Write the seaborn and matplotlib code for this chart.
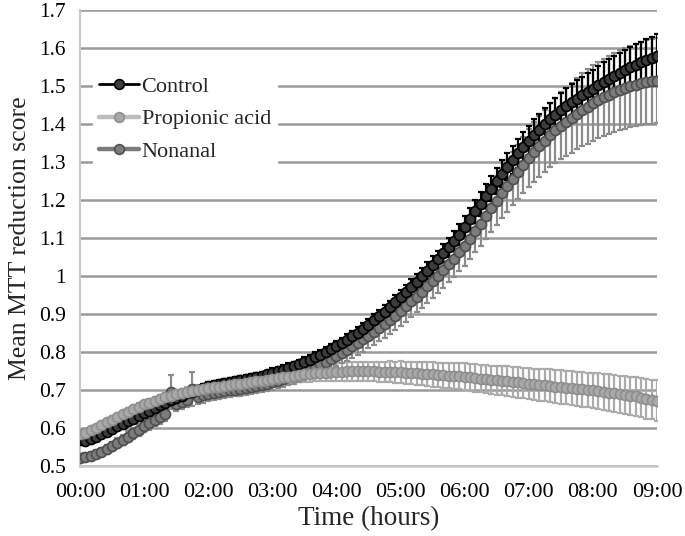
import numpy as np
import pandas as pd
import matplotlib
matplotlib.use("Agg")
import matplotlib.pyplot as plt
import seaborn as sns
from matplotlib.lines import Line2D

# ---- data (one point every 5 minutes) ----
time_minutes = list(range(0, 545, 5))

control = [
    0.568, 0.567, 0.570, 0.576, 0.583, 0.590, 0.597, 0.604, 0.611, 0.618, 0.625, 0.632,
    0.639, 0.646, 0.653, 0.660, 0.667, 0.673, 0.679, 0.685, 0.691, 0.696, 0.701, 0.706,
    0.710, 0.713, 0.716, 0.719, 0.721, 0.724, 0.726, 0.729, 0.732, 0.735, 0.738, 0.741,
    0.745, 0.749, 0.753, 0.758, 0.763, 0.768, 0.774, 0.780, 0.786, 0.793, 0.800, 0.807,
    0.815, 0.823, 0.832, 0.841, 0.851, 0.861, 0.872, 0.883, 0.894, 0.906, 0.918, 0.931,
    0.944, 0.957, 0.971, 0.985, 0.999, 1.014, 1.029, 1.044, 1.060, 1.076, 1.092, 1.109,
    1.130, 1.150, 1.170, 1.190, 1.210, 1.230, 1.250, 1.269, 1.288, 1.306, 1.323, 1.340,
    1.356, 1.371, 1.385, 1.399, 1.412, 1.424, 1.436, 1.447, 1.457, 1.467, 1.476, 1.485,
    1.493, 1.502, 1.511, 1.519, 1.527, 1.535, 1.542, 1.549, 1.556, 1.562, 1.568, 1.574,
    1.580,
]
control_err = [
    0.008, 0.008, 0.008, 0.008, 0.008, 0.008, 0.008, 0.008, 0.008, 0.008, 0.008, 0.008,
    0.009, 0.009, 0.009, 0.009, 0.009, 0.009, 0.009, 0.009, 0.009, 0.009, 0.009, 0.009,
    0.010, 0.010, 0.010, 0.010, 0.010, 0.010, 0.010, 0.010, 0.010, 0.010, 0.010, 0.010,
    0.012, 0.012, 0.012, 0.012, 0.012, 0.012, 0.013, 0.013, 0.013, 0.013, 0.013, 0.013,
    0.015, 0.015, 0.015, 0.015, 0.016, 0.016, 0.016, 0.016, 0.017, 0.017, 0.017, 0.018,
    0.020, 0.020, 0.021, 0.021, 0.022, 0.022, 0.023, 0.023, 0.024, 0.025, 0.026, 0.027,
    0.028, 0.029, 0.030, 0.031, 0.032, 0.033, 0.034, 0.035, 0.036, 0.037, 0.038, 0.039,
    0.040, 0.041, 0.042, 0.043, 0.044, 0.045, 0.046, 0.047, 0.047, 0.048, 0.048, 0.049,
    0.050, 0.050, 0.051, 0.051, 0.052, 0.052, 0.053, 0.053, 0.054, 0.054, 0.055, 0.055,
    0.056,
]

propionic = [
    0.585, 0.588, 0.594, 0.601, 0.608, 0.615, 0.622, 0.629, 0.636, 0.643, 0.650, 0.656,
    0.662, 0.667, 0.672, 0.677, 0.681, 0.685, 0.689, 0.692, 0.695, 0.698, 0.701, 0.703,
    0.705, 0.707, 0.709, 0.711, 0.713, 0.715, 0.717, 0.719, 0.721, 0.723, 0.725, 0.727,
    0.729, 0.731, 0.733, 0.735, 0.737, 0.739, 0.741, 0.742, 0.744, 0.745, 0.746, 0.747,
    0.748, 0.748, 0.749, 0.749, 0.749, 0.749, 0.749, 0.749, 0.748, 0.748, 0.748, 0.747,
    0.747, 0.746, 0.745, 0.744, 0.743, 0.742, 0.741, 0.740, 0.739, 0.738, 0.737, 0.736,
    0.735, 0.733, 0.732, 0.730, 0.729, 0.727, 0.726, 0.724, 0.723, 0.721, 0.720, 0.718,
    0.717, 0.715, 0.714, 0.712, 0.711, 0.709, 0.708, 0.706, 0.705, 0.703, 0.702, 0.700,
    0.699, 0.697, 0.695, 0.693, 0.691, 0.689, 0.687, 0.685, 0.683, 0.680, 0.677, 0.675,
    0.672,
]
propionic_err = [
    0.008, 0.008, 0.008, 0.008, 0.008, 0.008, 0.009, 0.009, 0.009, 0.009, 0.009, 0.009,
    0.010, 0.010, 0.010, 0.010, 0.011, 0.011, 0.011, 0.011, 0.012, 0.012, 0.012, 0.012,
    0.013, 0.013, 0.013, 0.014, 0.014, 0.014, 0.015, 0.015, 0.015, 0.016, 0.016, 0.016,
    0.017, 0.017, 0.018, 0.018, 0.019, 0.019, 0.020, 0.020, 0.021, 0.021, 0.022, 0.022,
    0.023, 0.023, 0.024, 0.024, 0.025, 0.025, 0.026, 0.026, 0.027, 0.027, 0.028, 0.028,
    0.029, 0.029, 0.030, 0.030, 0.031, 0.031, 0.032, 0.032, 0.033, 0.033, 0.034, 0.034,
    0.035, 0.035, 0.036, 0.036, 0.037, 0.037, 0.038, 0.038, 0.039, 0.039, 0.040, 0.040,
    0.041, 0.041, 0.042, 0.042, 0.043, 0.043, 0.044, 0.044, 0.045, 0.045, 0.046, 0.046,
    0.047, 0.047, 0.048, 0.048, 0.049, 0.049, 0.050, 0.050, 0.051, 0.051, 0.052, 0.052,
    0.053,
]

nonanal = [
    0.522, 0.523, 0.526, 0.531, 0.537, 0.544, 0.552, 0.560, 0.568, 0.577, 0.586, 0.595,
    0.604, 0.612, 0.620, 0.628, 0.636, 0.694, 0.664, 0.669, 0.674, 0.703, 0.682, 0.686,
    0.690, 0.693, 0.695, 0.697, 0.699, 0.701, 0.703, 0.705, 0.708, 0.711, 0.714, 0.717,
    0.720, 0.724, 0.728, 0.733, 0.738, 0.743, 0.749, 0.755, 0.761, 0.768, 0.775, 0.782,
    0.790, 0.798, 0.806, 0.815, 0.824, 0.833, 0.843, 0.853, 0.863, 0.874, 0.885, 0.896,
    0.908, 0.920, 0.933, 0.946, 0.959, 0.973, 0.987, 1.001, 1.016, 1.031, 1.046, 1.062,
    1.078, 1.098, 1.118, 1.138, 1.158, 1.178, 1.198, 1.218, 1.237, 1.256, 1.274, 1.292,
    1.310, 1.326, 1.341, 1.356, 1.370, 1.383, 1.395, 1.406, 1.417, 1.427, 1.437, 1.446,
    1.455, 1.463, 1.470, 1.477, 1.483, 1.489, 1.494, 1.499, 1.503, 1.507, 1.510, 1.512,
    1.514,
]
nonanal_err = [
    0.010, 0.010, 0.010, 0.011, 0.011, 0.012, 0.012, 0.013, 0.013, 0.014, 0.014, 0.015,
    0.015, 0.016, 0.016, 0.017, 0.017, 0.045, 0.020, 0.020, 0.020, 0.045, 0.020, 0.020,
    0.018, 0.018, 0.018, 0.018, 0.018, 0.018, 0.018, 0.018, 0.019, 0.019, 0.019, 0.019,
    0.020, 0.020, 0.020, 0.021, 0.021, 0.022, 0.022, 0.023, 0.023, 0.024, 0.025, 0.026,
    0.027, 0.028, 0.029, 0.030, 0.031, 0.032, 0.033, 0.034, 0.035, 0.036, 0.037, 0.038,
    0.039, 0.040, 0.041, 0.042, 0.043, 0.044, 0.045, 0.046, 0.047, 0.048, 0.049, 0.050,
    0.052, 0.054, 0.056, 0.058, 0.060, 0.062, 0.064, 0.066, 0.068, 0.070, 0.072, 0.074,
    0.076, 0.078, 0.080, 0.082, 0.084, 0.086, 0.088, 0.090, 0.092, 0.094, 0.096, 0.098,
    0.100, 0.101, 0.102, 0.103, 0.104, 0.105, 0.106, 0.107, 0.108, 0.109, 0.110, 0.111,
    0.112,
]

series_names = ["Control", "Propionic acid", "Nonanal"]
y_ticks = [0.5, 0.6, 0.7, 0.8, 0.9, 1, 1.1, 1.2, 1.3, 1.4, 1.5, 1.6, 1.7]
y_tick_labels = ["0.5", "0.6", "0.7", "0.8", "0.9", "1", "1.1", "1.2", "1.3",
                 "1.4", "1.5", "1.6", "1.7"]
x_tick_hours = [0, 1, 2, 3, 4, 5, 6, 7, 8, 9]
x_tick_labels = ["00:00", "01:00", "02:00", "03:00", "04:00", "05:00",
                 "06:00", "07:00", "08:00", "09:00"]

# ---- build long table ----
hours = [m / 60 for m in time_minutes]
df = pd.concat([
    pd.DataFrame({"hours": hours, "score": control, "err": control_err, "series": "Control"}),
    pd.DataFrame({"hours": hours, "score": propionic, "err": propionic_err, "series": "Propionic acid"}),
    pd.DataFrame({"hours": hours, "score": nonanal, "err": nonanal_err, "series": "Nonanal"}),
], ignore_index=True)

sns.set_theme(style="white")
plt.rcParams["font.family"] = ["Liberation Serif", "DejaVu Serif"]

fig = plt.figure(figsize=(6.85, 5.36), dpi=100)
ax = fig.add_axes([80 / 685, 1 - 466 / 536, 577 / 685, 456 / 536])

styles = {
    "Control": dict(line="#000000", face="#3c3c3c", edge="#000000", err="#000000", z=6),
    "Propionic acid": dict(line="#bdbdbd", face="#a9a9a9", edge="#8e8e8e", err="#ababab", z=7),
    "Nonanal": dict(line="#7a7a7a", face="#7c7c7c", edge="#4e4e4e", err="#8c8c8c", z=5),
}

# error bars first
for name in ["Propionic acid", "Nonanal", "Control"]:
    sub = df[df["series"] == name]
    st = styles[name]
    ax.errorbar(sub["hours"], sub["score"], yerr=sub["err"], fmt="none",
                ecolor=st["err"], elinewidth=1.6, capsize=2.2, capthick=1.6,
                zorder=3 if name != "Control" else 4)

for name in ["Nonanal", "Control", "Propionic acid"]:
    sub = df[df["series"] == name]
    st = styles[name]
    sns.lineplot(data=sub, x="hours", y="score", ax=ax, color=st["line"],
                 linewidth=2.2, marker="o", markersize=7.2,
                 markerfacecolor=st["face"], markeredgecolor=st["edge"],
                 markeredgewidth=1.2, zorder=st["z"], legend=False,
                 estimator=None, sort=False)

ax.set_xlim(0, 9)
ax.set_ylim(0.5, 1.7)
ax.set_yticks(y_ticks)
ax.set_yticklabels(y_tick_labels)
ax.set_xticks(x_tick_hours)
ax.set_xticklabels(x_tick_labels)
ax.tick_params(axis="both", length=0, colors="#000000")
ax.tick_params(axis="y", pad=10, labelsize=15.5)
ax.tick_params(axis="x", pad=12, labelsize=16)
ax.set_xlabel("Time (hours)", fontsize=19.5, labelpad=3)
ax.set_ylabel("Mean MTT reduction score", fontsize=18.5, labelpad=6)

ax.grid(axis="y", color="#9a9a9a", linewidth=1.8, zorder=0)
ax.grid(axis="x", visible=False)
ax.set_axisbelow(True)
for s in ["top", "right"]:
    ax.spines[s].set_visible(False)
ax.spines["left"].set_color("#c8c8c8")
ax.spines["left"].set_linewidth(1.5)
ax.spines["bottom"].set_color("#c8c8c8")
ax.spines["bottom"].set_linewidth(1.8)

handles = []
for name in series_names:
    st = styles[name]
    handles.append(Line2D([0], [0], color=st["line"], linewidth=2.0 if name == "Control" else 3.2,
                          marker="o", markersize=7, markerfacecolor=st["face"],
                          markeredgecolor=st["edge"], markeredgewidth=1.2))
leg = ax.legend(handles, series_names, loc="upper left", bbox_to_anchor=(0.022, 0.87),
                frameon=True, fontsize=16, handlelength=1.8, handletextpad=0.1,
                labelspacing=0.55, borderpad=0.3, borderaxespad=0.0)
leg.get_frame().set_facecolor("white")
leg.get_frame().set_edgecolor("white")
leg.get_frame().set_alpha(1.0)
leg.set_zorder(10)

fig.savefig("out.png", dpi=100)
